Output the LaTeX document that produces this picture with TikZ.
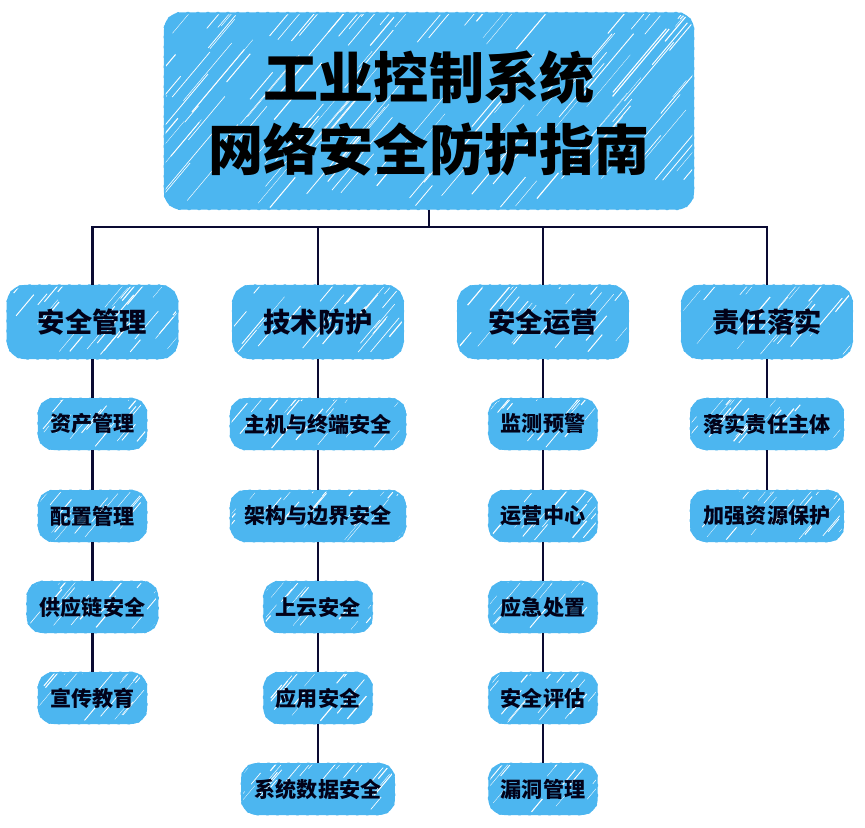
\documentclass[tikz,border=0pt]{standalone}
\usepackage{fontspec}
\setmainfont{Noto Sans CJK SC}[BoldFont={Noto Sans CJK SC Black}]
\usetikzlibrary{calc}
\definecolor{boxblue}{RGB}{76,182,240}
\definecolor{linknavy}{RGB}{10,10,50}
\definecolor{textnavy}{RGB}{2,2,25}
\tikzset{
	scribble/.style 2 args={
		path picture={
			\foreach \i in {1,...,#1}{
				\pgfmathsetmacro{\hx}{1.15*rnd-0.1}
				\pgfmathsetmacro{\hy}{rnd}
				\pgfmathsetmacro{\hl}{#2*(0.3+rnd)}
				\pgfmathsetmacro{\hw}{0.2+0.8*rnd}
				\draw[white, line width=\hw pt]
					($($(path picture bounding box.south west)!\hx!(path picture bounding box.south east)$)!\hy!($(path picture bounding box.north west)!\hx!(path picture bounding box.north east)$)$)
					-- ++(50:\hl pt);
			}
		}
	},
	box/.style={
		fill=boxblue, draw=boxblue, line width=1.4pt, rounded corners=11pt,
		postaction={draw=boxblue, line width=2.2pt, line cap=round, dash pattern=on 1.5pt off 7pt},
		inner sep=0pt, align=center, text=textnavy, font=\bfseries
	},
	titlebox/.style={box, minimum width=451pt, minimum height=167pt, rounded corners=14pt,
		font=\fontsize{47}{62}\selectfont\bfseries, text=black, scribble={150}{60}},
	groupbox/.style={box, minimum width=145pt, minimum height=62pt, rounded corners=15pt,
		font=\fontsize{23.3}{28}\selectfont\bfseries, scribble={30}{30}},
	itembox/.style={box, minimum height=43pt, rounded corners=13pt,
		font=\fontsize{18}{22}\selectfont\bfseries},
	small/.style={itembox, minimum width=92pt, scribble={18}{22}},
	mid/.style={itembox, minimum width=111pt, scribble={22}{22}},
	wide/.style={itembox, minimum width=130pt, scribble={26}{22}},
	widest/.style={itembox, minimum width=149pt, scribble={30}{22}},
	link/.style={draw=linknavy, line width=2.4pt}
}
\begin{document}
\begin{tikzpicture}[x=0.03cm, y=-0.03cm]
	\pgfmathsetseed{2718}
	\useasboundingbox (0,0) rectangle (865,827);
	% Top box
	\node[titlebox] (title) at (429,111) {\rule{0pt}{45pt}工业控制系统\\网络安全防护指南};
	\coordinate (bus) at (429,227);
	% Group boxes
	\node[groupbox] (manage) at (92.5,322) {安全管理};
	\node[groupbox] (protect) at (318,322) {技术防护};
	\node[groupbox] (operate) at (543,322) {安全运营};
	\node[groupbox] (duty) at (767,322) {责任落实};
	% Column 1
	\node[small] (asset) at (92.5,424) {资产管理};
	\node[small] (config) at (92.5,516) {配置管理};
	\node[mid] (supply) at (92.5,607) {供应链安全};
	\node[small] (educate) at (92.5,698) {宣传教育};
	% Column 2
	\node[widest] (host) at (318,424) {主机与终端安全};
	\node[widest] (border) at (318,516) {架构与边界安全};
	\node[small] (cloud) at (318,607) {上云安全};
	\node[small] (app) at (318,698) {应用安全};
	\node[wide] (data) at (318,789) {系统数据安全};
	% Column 3
	\node[small] (monitor) at (543,424) {监测预警};
	\node[small] (center) at (543,516) {运营中心};
	\node[small] (response) at (543,607) {应急处置};
	\node[small] (assess) at (543,698) {安全评估};
	\node[small] (vuln) at (543,789) {漏洞管理};
	% Column 4
	\node[wide] (subject) at (767,424) {落实责任主体};
	\node[wide] (resource) at (767,516) {加强资源保护};
	% Connectors
	\draw[link] (title.south) -- (bus);
	\draw[link] (bus) -| (manage.north);
	\draw[link] (bus) -| (protect.north);
	\draw[link] (bus) -| (operate.north);
	\draw[link] (bus) -| (duty.north);
	\draw[link] (manage) -- (asset);
	\draw[link] (asset) -- (config);
	\draw[link] (config) -- (supply);
	\draw[link] (supply) -- (educate);
	\draw[link] (protect) -- (host);
	\draw[link] (host) -- (border);
	\draw[link] (border) -- (cloud);
	\draw[link] (cloud) -- (app);
	\draw[link] (app) -- (data);
	\draw[link] (operate) -- (monitor);
	\draw[link] (monitor) -- (center);
	\draw[link] (center) -- (response);
	\draw[link] (response) -- (assess);
	\draw[link] (assess) -- (vuln);
	\draw[link] (duty) -- (subject);
	\draw[link] (subject) -- (resource);
\end{tikzpicture}
\end{document}
